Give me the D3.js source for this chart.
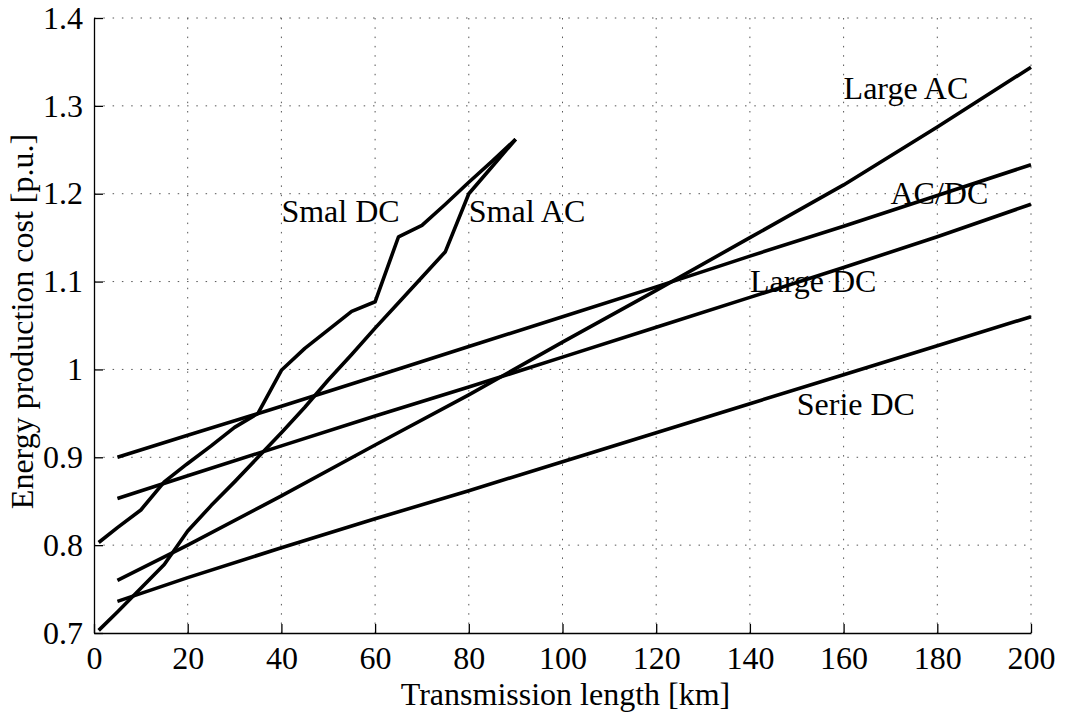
<!DOCTYPE html>
<html>
<head>
<meta charset="utf-8">
<script src="https://cdn.jsdelivr.net/npm/d3@7"></script>
<style>
  body { margin: 0; background: #fff; }
  text { font-family: "Liberation Serif", "Times New Roman", serif; fill: #000; }
</style>
</head>
<body>
<div id="chart"></div>
<script>
// distances [km]
const distLong = [5, 20, 40, 60, 80, 100, 120, 140, 160, 180, 200];
const distShort = [1, 5, 10, 15, 20, 25, 30, 35, 40, 45, 50, 55, 60, 65, 70, 75, 80, 85, 90];

// energy production cost [p.u.]
const largeAC = [0.760, 0.800, 0.856, 0.914, 0.971, 1.031, 1.090, 1.150, 1.210, 1.276, 1.344];
const acdc    = [0.900, 0.925, 0.958, 0.992, 1.026, 1.060, 1.094, 1.129, 1.163, 1.198, 1.233];
const largeDC = [0.853, 0.879, 0.913, 0.947, 0.980, 1.014, 1.048, 1.082, 1.116, 1.151, 1.188];
const serieDC = [0.736, 0.763, 0.797, 0.830, 0.862, 0.895, 0.928, 0.961, 0.994, 1.027, 1.060];
const smalDC  = [0.803, 0.820, 0.840, 0.872, 0.893, 0.913, 0.934, 0.950, 0.999, 1.024, 1.045, 1.066, 1.077, 1.151, 1.164, 1.188, 1.213, 1.237, 1.262];
const smalAC  = [0.703, 0.724, 0.751, 0.778, 0.816, 0.845, 0.872, 0.900, 0.928, 0.957, 0.988, 1.017, 1.047, 1.076, 1.105, 1.134, 1.200, 1.231, 1.262];

// curve labels: text, x, y (baseline)
const labelText = ["Large AC", "AC/DC", "Large DC", "Serie DC", "Smal DC", "Smal AC"];
const labelX    = [160, 170, 140, 150, 40, 80];
const labelY    = [1.308, 1.188, 1.088, 0.948, 1.168, 1.168];

const xTicks = [0, 20, 40, 60, 80, 100, 120, 140, 160, 180, 200];
const yTicks = [0.7, 0.8, 0.9, 1.0, 1.1, 1.2, 1.3, 1.4];
const yTickLabels = ["0.7", "0.8", "0.9", "1", "1.1", "1.2", "1.3", "1.4"];

const series = [
  {x: distLong, y: largeAC},
  {x: distLong, y: acdc},
  {x: distLong, y: largeDC},
  {x: distLong, y: serieDC},
  {x: distShort, y: smalDC},
  {x: distShort, y: smalAC}
];

// set the dimensions and margins of the graph
const W = 1066, H = 713;
const margin = {top: 18, right: 35, bottom: 80, left: 94};
const width = W - margin.left - margin.right;
const height = H - margin.top - margin.bottom;
const fontSize = 32;

const svg = d3.select("#chart").append("svg")
    .attr("width", W)
    .attr("height", H);

const g = svg.append("g")
    .attr("transform", "translate(" + margin.left + "," + margin.top + ")");

const x = d3.scaleLinear().domain([0, 200]).range([0, width]);
const y = d3.scaleLinear().domain([0.7, 1.4]).range([height, 0]);

// dotted grid
g.append("g").selectAll("line")
  .data(xTicks.slice(1))
  .enter().append("line")
    .attr("x1", d => x(d)).attr("x2", d => x(d))
    .attr("y1", 0).attr("y2", height)
    .attr("stroke", "#555").attr("stroke-width", 1)
    .attr("stroke-dasharray", "1.5,7.8");

g.append("g").selectAll("line")
  .data(yTicks.slice(1))
  .enter().append("line")
    .attr("x1", 0).attr("x2", width)
    .attr("y1", d => y(d)).attr("y2", d => y(d))
    .attr("stroke", "#555").attr("stroke-width", 1)
    .attr("stroke-dasharray", "1.5,7.8");

// axes
const xAxis = g.append("g")
    .attr("transform", "translate(0," + height + ")")
    .call(d3.axisBottom(x).tickValues(xTicks).tickSizeInner(-9).tickSizeOuter(0).tickPadding(13));

const yAxis = g.append("g")
    .call(d3.axisLeft(y).tickValues(yTicks).tickFormat((d, i) => yTickLabels[i])
      .tickSizeInner(-9).tickSizeOuter(0).tickPadding(11));

[xAxis, yAxis].forEach(a => {
  a.select(".domain").attr("stroke", "#000").attr("stroke-width", 1.3);
  a.selectAll(".tick line").attr("stroke", "#000").attr("stroke-width", 1.3);
  a.selectAll(".tick text")
    .style("font-family", "'Liberation Serif', 'Times New Roman', serif")
    .attr("font-size", fontSize).attr("fill", "#000");
});

// lines
const line = d3.line()
  .x(d => x(d[0]))
  .y(d => y(d[1]));

g.selectAll(".curve")
  .data(series)
  .enter().append("path")
    .attr("class", "curve")
    .attr("fill", "none")
    .attr("stroke", "#000")
    .attr("stroke-width", 3.6)
    .attr("stroke-linejoin", "round")
    .attr("d", s => line(s.x.map((v, i) => [v, s.y[i]])));

// curve labels
g.selectAll(".lbl")
  .data(labelText)
  .enter().append("text")
    .attr("class", "lbl")
    .attr("x", (d, i) => x(labelX[i]))
    .attr("y", (d, i) => y(labelY[i]))
    .attr("font-size", fontSize)
    .text(d => d);

// axis titles
g.append("text")
    .attr("x", width / 2 + 3)
    .attr("y", height + 72)
    .attr("text-anchor", "middle")
    .attr("font-size", fontSize)
    .text("Transmission length [km]");

g.append("text")
    .attr("transform", "translate(" + (-61) + "," + (height / 2 - 4) + ") rotate(-90)")
    .attr("text-anchor", "middle")
    .attr("font-size", fontSize)
    .text("Energy production cost [p.u.]");
</script>
</body>
</html>
